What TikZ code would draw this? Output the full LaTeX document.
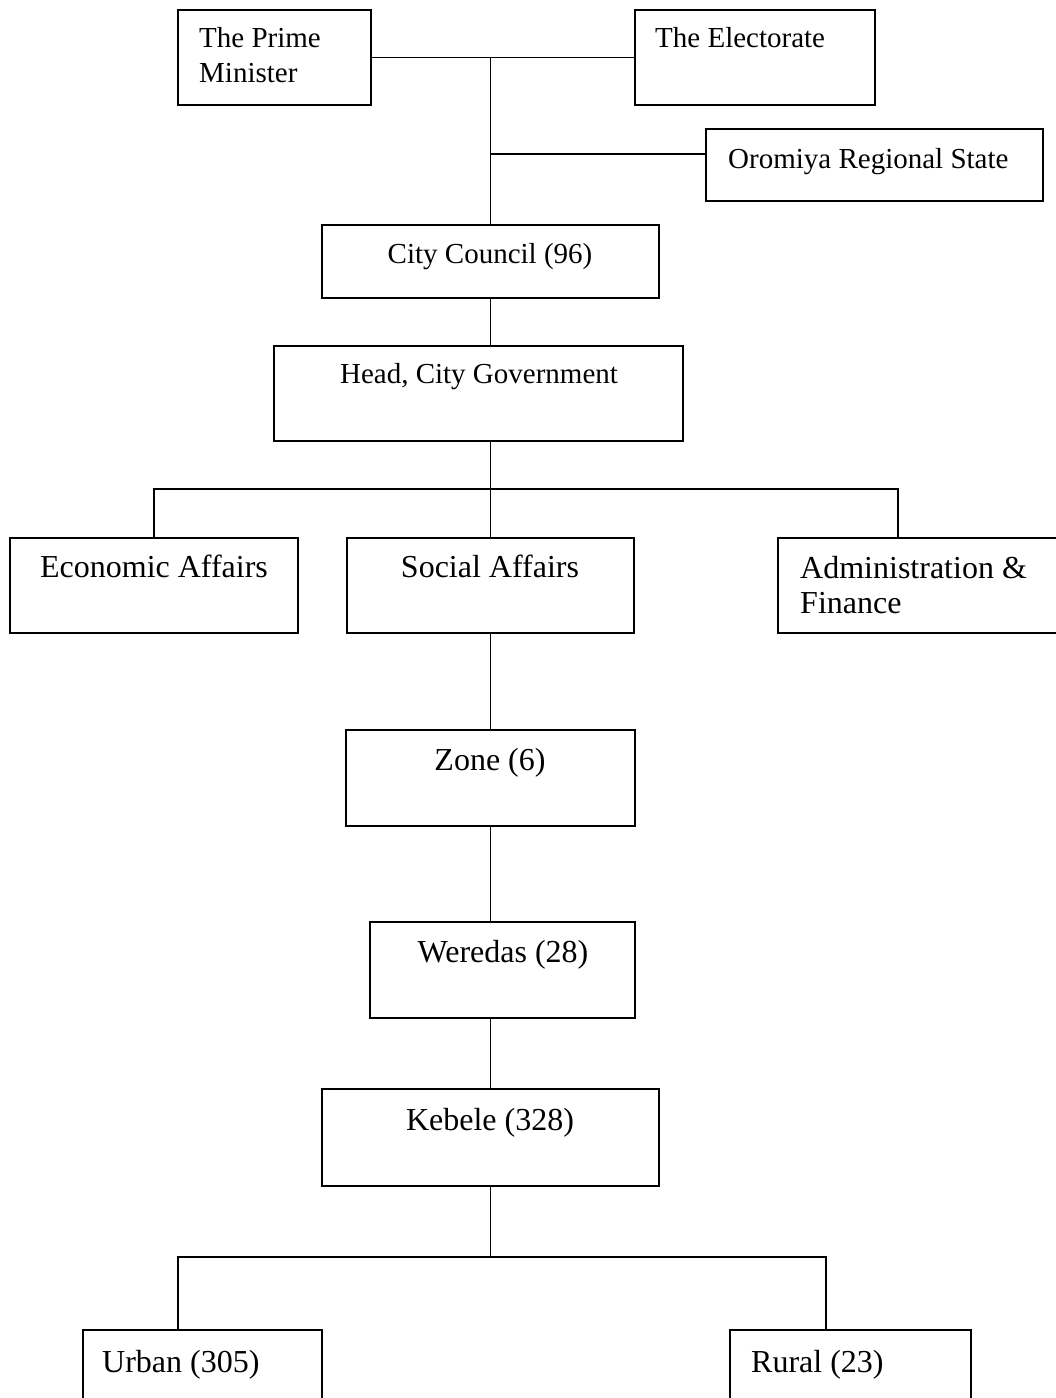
\documentclass[tikz,border=0pt]{standalone}
\usepackage{fontspec}
\setmainfont{Liberation Serif}
\tikzset{
  box/.style={draw, line width=1.8pt, rectangle, inner sep=0pt},
  con/.style={line width=1.8pt},
  sm/.style={font=\fontsize{29}{35}\selectfont, inner sep=0pt},
  lg/.style={font=\fontsize{32}{35}\selectfont, inner sep=0pt},
}
\newcommand\mybox[5]{\node[box, minimum width={#4-#2}, minimum height={#5-#3}] (#1) at ({(#2+#4)/2},{(#3+#5)/2}) {};}
\begin{document}
\begin{tikzpicture}[x=1pt,y=-1pt]
\useasboundingbox (0,0) rectangle (1056,1398);
\clip (0,0) rectangle (1056,1398);
% boxes
\mybox{pm}{178}{10}{371}{105}
\mybox{el}{635}{10}{875}{105}
\mybox{or}{706}{129}{1043}{201}
\mybox{cc}{322}{225}{659}{298}
\mybox{hd}{274}{346}{683}{441}
\mybox{ec}{10}{538}{298}{633}
\mybox{so}{347}{538}{634}{633}
\mybox{ad}{778}{538}{1075}{633}
\mybox{zo}{346}{730}{635}{826}
\mybox{we}{370}{922}{635}{1018}
\mybox{ke}{322}{1089}{659}{1186}
\mybox{ur}{83}{1330}{322}{1420}
\mybox{ru}{730}{1330}{971}{1420}
% texts
\node[sm, anchor=base west, align=left] (tpm) at (199,82) {The Prime\\Minister};
\node[sm, anchor=base west] (tel) at (655,47) {The Electorate};
\node[sm, anchor=base west] (tor) at (728,168) {Oromiya Regional State};
\node[sm, anchor=base] (tcc) at (490,263) {City Council (96)};
\node[sm, anchor=base] (thd) at (479,383) {Head, City Government};
\node[lg, anchor=base] (tec) at (154,577) {Economic Affairs};
\node[lg, anchor=base] (tso) at (490,577) {Social Affairs};
\node[lg, anchor=base west, align=left] (tad) at (800,613) {Administration \&\\Finance};
\node[lg, anchor=base] (tzo) at (490,770) {Zone (6)};
\node[lg, anchor=base] (twe) at (503,962) {Weredas (28)};
\node[lg, anchor=base] (tke) at (490,1130) {Kebele (328)};
\node[lg, anchor=base west] (tur) at (102,1372) {Urban (305)};
\node[lg, anchor=base west] (tru) at (751,1372) {Rural (23)};
% helper coordinates
\coordinate (orj) at (706,154);
\coordinate (busA) at (0,489);
\coordinate (adtop) at (898,538);
\coordinate (busB) at (0,1257);
\coordinate (urt) at (178,1330);
\coordinate (rut) at (826,1330);
% connectors
\draw[con] (pm.east) -- (el.west);
\draw[con] (cc.north |- pm.east) -- (cc.north);
\draw[con] (orj -| cc.north) -- (orj);
\draw[con] (cc.south) -- (cc.south |- hd.north);
\draw[con] (so.north |- hd.south) -- (so.north);
\draw[con] (ec.north) -- (ec.north |- busA) -- (adtop |- busA) -- (adtop);
\draw[con] (so.south) -- (zo.north);
\draw[con] (zo.south) -- (zo.south |- we.north);
\draw[con] (ke.north |- we.south) -- (ke.north);
\draw[con] (ke.south) -- (ke.south |- busB);
\draw[con] (urt) -- (urt |- busB) -- (rut |- busB) -- (rut);
\end{tikzpicture}
\end{document}
